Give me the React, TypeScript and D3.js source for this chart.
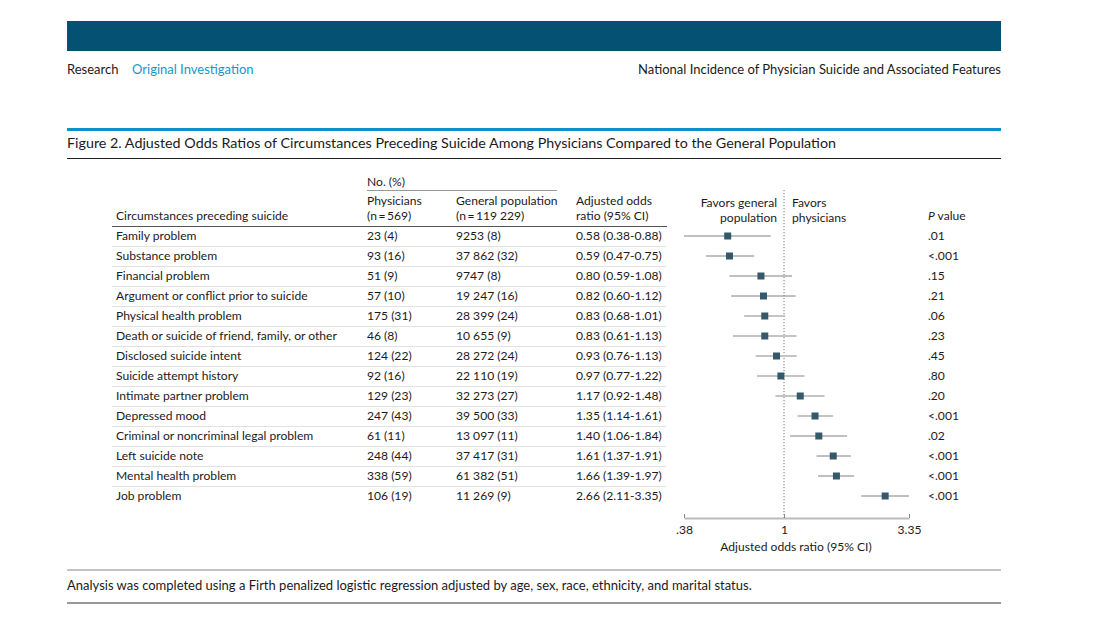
import { useEffect, useRef } from "react";
import { axisBottom, scaleLog, scaleBand, select } from "d3";

const categories = [
  "Family problem",
  "Substance problem",
  "Financial problem",
  "Argument or conflict prior to suicide",
  "Physical health problem",
  "Death or suicide of friend, family, or other",
  "Disclosed suicide intent",
  "Suicide attempt history",
  "Intimate partner problem",
  "Depressed mood",
  "Criminal or noncriminal legal problem",
  "Left suicide note",
  "Mental health problem",
  "Job problem",
];
const physicians = [
  "23 (4)", "93 (16)", "51 (9)", "57 (10)", "175 (31)", "46 (8)", "124 (22)",
  "92 (16)", "129 (23)", "247 (43)", "61 (11)", "248 (44)", "338 (59)", "106 (19)",
];
const generalPopulation = [
  "9253 (8)", "37 862 (32)", "9747 (8)", "19 247 (16)", "28 399 (24)",
  "10 655 (9)", "28 272 (24)", "22 110 (19)", "32 273 (27)",
  "39 500 (33)", "13 097 (11)", "37 417 (31)", "61 382 (51)", "11 269 (9)",
];
const oddsRatio = [0.58, 0.59, 0.8, 0.82, 0.83, 0.83, 0.93, 0.97, 1.17, 1.35, 1.4, 1.61, 1.66, 2.66];
const ciLow = [0.38, 0.47, 0.59, 0.6, 0.68, 0.61, 0.76, 0.77, 0.92, 1.14, 1.06, 1.37, 1.39, 2.11];
const ciHigh = [0.88, 0.75, 1.08, 1.12, 1.01, 1.13, 1.13, 1.22, 1.48, 1.61, 1.84, 1.91, 1.97, 3.35];
const pValues = [".01", "<.001", ".15", ".21", ".06", ".23", ".45", ".80", ".20", "<.001", ".02", "<.001", "<.001", "<.001"];
const axisTicks = [0.38, 1, 3.35];
const axisTickLabels = [".38", "1", "3.35"];

const FONT = "Lato, 'Open Sans', sans-serif";
const TEXT = "#1c1a1b";
const FS = 12.1;
const lightRows = new Set([4, 5, 6, 7, 8, 9]);

const fmtOR = (i: number) =>
  `${oddsRatio[i].toFixed(2)} (${ciLow[i].toFixed(2)}-${ciHigh[i].toFixed(2)})`;

function Axis({ scale }: { scale: any }) {
  const ref = useRef<SVGGElement>(null);
  useEffect(() => {
    if (!ref.current) return;
    const g = select(ref.current);
    g.call(
      axisBottom(scale)
        .tickValues(axisTicks)
        .tickSize(-4)
        .tickSizeOuter(0)
        .tickFormat((_d: any, i: number) => axisTickLabels[i])
    );
    g.select(".domain").attr("stroke", "#bcbcbc").attr("stroke-width", 2);
    g.selectAll(".tick line").attr("stroke", "#888").attr("stroke-width", 1);
    g.selectAll(".tick text")
      .attr("y", 7)
      .attr("fill", TEXT)
      .attr("font-size", FS)
      .attr("font-family", FONT);
  }, [scale]);
  return <g ref={ref} transform="translate(0,518)" />;
}

export default function App() {
  const x = scaleLog().domain([0.38, 3.35]).range([684, 909]);
  const y = scaleBand<number>()
    .domain(categories.map((_, i) => i))
    .range([226, 506])
    .padding(0);
  const cy = (i: number) => (y(i) as number) + y.bandwidth() / 2;

  return (
    <svg
      width={1097}
      height={618}
      style={{ position: "absolute", left: 0, top: 0, background: "#fff" }}
      fontFamily={FONT}
      fill={TEXT}
    >
      <rect x={67} y={21} width={934} height={30} fill="#045174" />
      <text x={67} y={74} fontSize={13}>Research</text>
      <text x={132} y={74} fontSize={13} fill="#1597cb">Original Investigation</text>
      <text x={1001} y={74} fontSize={13} textAnchor="end">
        National Incidence of Physician Suicide and Associated Features
      </text>

      <rect x={67} y={128} width={934} height={3} fill="#0a93c4" />
      <text x={67} y={148} fontSize={14.3}>
        Figure 2. Adjusted Odds Ratios of Circumstances Preceding Suicide Among Physicians Compared to the General Population
      </text>
      <line x1={67} x2={1001} y1={158.5} y2={158.5} stroke="#222" />

      {/* column headers */}
      <text x={367} y={186} fontSize={FS}>No. (%)</text>
      <line x1={367} x2={557} y1={190.5} y2={190.5} stroke="#999" />
      <text fontSize={FS}>
        <tspan x={367} y={205}>Physicians</tspan>
        <tspan x={367} y={220}>(n{"\u2009"}={"\u2009"}569)</tspan>
      </text>
      <text fontSize={FS}>
        <tspan x={456} y={205}>General population</tspan>
        <tspan x={456} y={220}>(n{"\u2009"}={"\u2009"}119 229)</tspan>
      </text>
      <text fontSize={FS}>
        <tspan x={576} y={205}>Adjusted odds</tspan>
        <tspan x={576} y={220}>ratio (95% CI)</tspan>
      </text>
      <text x={116} y={220} fontSize={FS}>Circumstances preceding suicide</text>
      <text fontSize={FS} textAnchor="end">
        <tspan x={777} y={207}>Favors general</tspan>
        <tspan x={777} y={222}>population</tspan>
      </text>
      <text fontSize={FS}>
        <tspan x={792} y={207}>Favors</tspan>
        <tspan x={792} y={222}>physicians</tspan>
      </text>
      <text x={928} y={220} fontSize={FS}>
        <tspan fontStyle="italic">P</tspan> value
      </text>
      <line x1={112} x2={667} y1={226.5} y2={226.5} stroke="#555" />

      {/* rows */}
      {categories.map((c, i) => (
        <g key={c}>
          {i < categories.length - 1 && (
            <line
              x1={112}
              x2={666}
              y1={(y(i) as number) + y.bandwidth() + 0.5}
              y2={(y(i) as number) + y.bandwidth() + 0.5}
              stroke="#e2e2e2"
            />
          )}
          <text x={116} y={cy(i) + 4} fontSize={FS}>{c}</text>
          <text x={367} y={cy(i) + 4} fontSize={FS}>{physicians[i]}</text>
          <text x={456} y={cy(i) + 4} fontSize={FS}>{generalPopulation[i]}</text>
          <text x={576} y={cy(i) + 4} fontSize={FS}>{fmtOR(i)}</text>
          <text x={928} y={cy(i) + 4} fontSize={FS}>{pValues[i]}</text>
        </g>
      ))}

      {/* forest plot */}
      <line x1={x(1)} x2={x(1)} y1={190} y2={518} stroke="#777" strokeDasharray="1.2,1.8" />
      {categories.map((c, i) => (
        <g key={`ci-${c}`}>
          <line
            x1={x(ciLow[i])}
            x2={x(ciHigh[i])}
            y1={cy(i)}
            y2={cy(i)}
            stroke={lightRows.has(i) ? "#c4c4c4" : "#808080"}
            strokeWidth={lightRows.has(i) ? 2 : 1}
          />
          <rect x={x(oddsRatio[i]) - 3.5} y={cy(i) - 3.5} width={7} height={7} fill="#34596a" />
        </g>
      ))}
      <Axis scale={x} />
      <text x={796} y={551} fontSize={FS} textAnchor="middle">
        Adjusted odds ratio (95% CI)
      </text>

      <line x1={67} x2={1001} y1={570} y2={570} stroke="#888" />
      <text x={67} y={590} fontSize={13}>
        Analysis was completed using a Firth penalized logistic regression adjusted by age, sex, race, ethnicity, and marital status.
      </text>
      <line x1={67} x2={1001} y1={603} y2={603} stroke="#333" />
    </svg>
  );
}
